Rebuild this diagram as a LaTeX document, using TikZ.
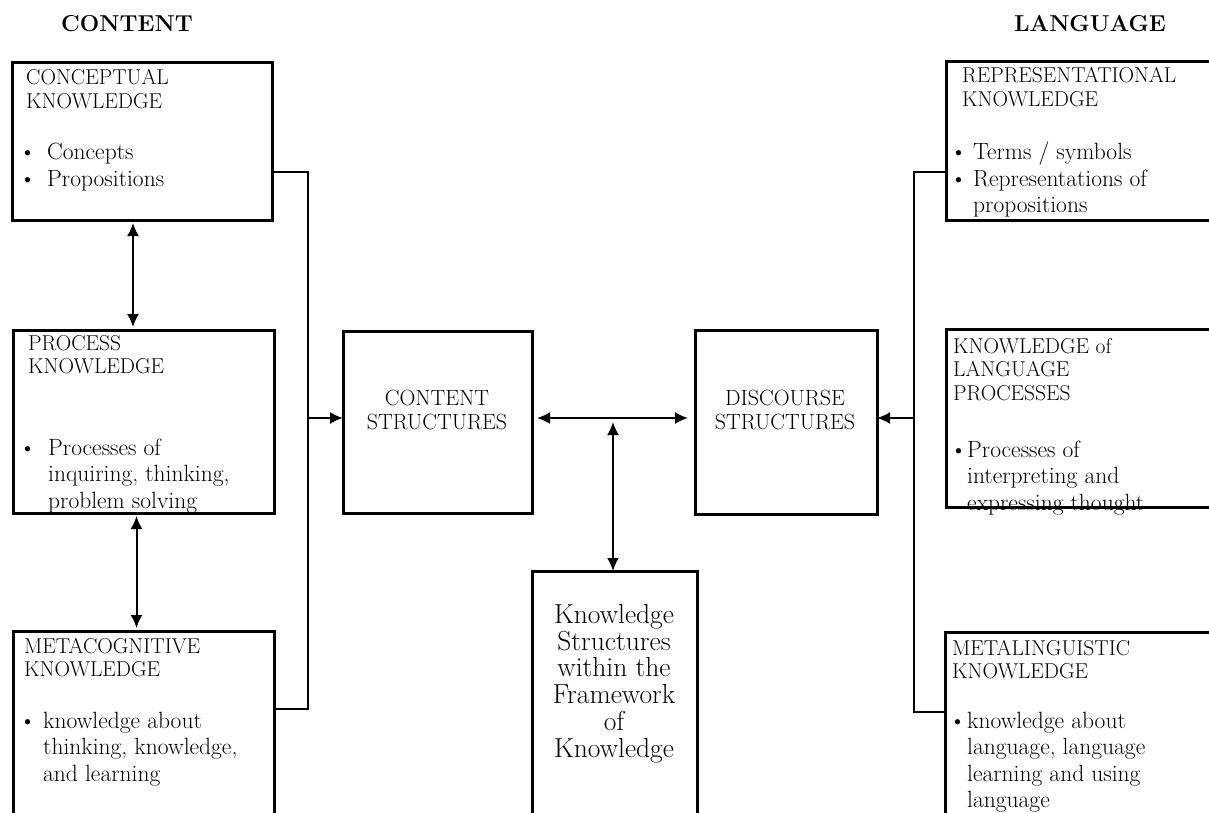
\documentclass[tikz,border=0pt]{standalone}
\usetikzlibrary{arrows.meta}

\newcommand{\hdtext}[1]{\begin{tabular}[t]{@{}l@{}}#1\end{tabular}}
\newcommand{\bltext}[2]{\begin{tabular}[t]{@{}p{#1}@{}l@{}}#2\end{tabular}}

\tikzset{
  box/.style={draw, line width=3pt, inner sep=0pt, outer sep=0pt, anchor=north west},
  wire/.style={line width=2pt},
  tip/.style={wire, -{Latex[length=13pt,width=12pt]}},
  dbl/.style={wire, {Latex[length=13pt,width=12pt]}-{Latex[length=13pt,width=12pt]}},
  txt/.style={anchor=base west, inner sep=0pt},
  hd/.style={txt, font=\fontsize{21.5}{23.5}\selectfont},
  bl/.style={txt, font=\fontsize{23.5}{26.5}\selectfont},
  title/.style={anchor=base, inner sep=0pt, font=\fontsize{23}{28}\selectfont\bfseries},
  mid/.style={anchor=base, inner sep=0pt, font=\fontsize{22}{24.5}\selectfont},
}

\begin{document}
\begin{tikzpicture}[x=1pt,y=-1pt]
	\useasboundingbox (0,0) rectangle (1209,813);
	\clip (0,0) rectangle (1209,813);

	\node[title] (contenthd) at (127,32) {CONTENT};
	\node[title] (languagehd) at (1090,32) {LANGUAGE};

	% left column
	\node[box, minimum width=260pt, minimum height=157pt] (concept) at (12,63) {};
	\node[box, minimum width=261pt, minimum height=183pt] (process) at (13,330) {};
	\node[box, minimum width=261pt, minimum height=230pt] (meta) at (13,631) {};

	% middle
	\node[box, minimum width=189pt, minimum height=182pt] (content) at (343,331) {};
	\node[box, minimum width=182pt, minimum height=184pt] (discourse) at (695,330) {};
	\node[box, minimum width=165pt, minimum height=260pt] (frame) at (532,571) {};

	% right column
	\node[box, minimum width=280pt, minimum height=158pt] (repr) at (946,62) {};
	\node[box, minimum width=280pt, minimum height=178pt] (langproc) at (946,329) {};
	\node[box, minimum width=280pt, minimum height=230pt] (metaling) at (945,632) {};

	% texts
	\node[hd] (concepthd) at (26,85) {\hdtext{CONCEPTUAL\\KNOWLEDGE}};
	\node[bl] (conceptbl) at (19,160) {\bltext{28pt}{\textbullet & Concepts\\ \textbullet & Propositions}};
	\node[hd] (processhd) at (28,350) {\hdtext{PROCESS\\KNOWLEDGE}};
	\node[bl] (processbl) at (19,455) {\bltext{29pt}{\textbullet & Processes of\\ & inquiring, thinking,\\ & problem solving}};
	\node[hd] (metahd) at (24,653) {\hdtext{METACOGNITIVE\\KNOWLEDGE}};
	\node[bl] (metabl) at (19,728) {\bltext{24pt}{\textbullet & knowledge about\\ & thinking, knowledge,\\ & and learning}};

	\node[mid] (contentlb) at (437,405) {\begin{tabular}[t]{@{}c@{}}CONTENT\\STRUCTURES\end{tabular}};
	\node[mid] (discourselb) at (785,405) {\begin{tabular}[t]{@{}c@{}}DISCOURSE\\STRUCTURES\end{tabular}};
	\node[anchor=base, inner sep=0pt, font=\fontsize{27.5}{26}\selectfont] (framelb) at (614,623)
		{\begin{tabular}[t]{@{}c@{}}Knowledge\\Structures\\within the\\Framework\\of\\Knowledge\end{tabular}};

	\node[hd] (reprhd) at (962,83) {\hdtext{REPRESENTATIONAL\\KNOWLEDGE}};
	\node[bl] (reprbl) at (950,160) {\bltext{23pt}{\textbullet & Terms / symbols\\ \textbullet & Representations of\\ & propositions}};
	\node[hd] (langprochd) at (953,353) {\hdtext{KNOWLEDGE of\\LANGUAGE\\PROCESSES}};
	\node[bl] (langprocbl) at (950,457) {\bltext{17pt}{\textbullet & Processes of\\ & interpreting and\\ & expressing thought}};
	\node[hd] (metalinghd) at (952,655) {\hdtext{METALINGUISTIC\\KNOWLEDGE}};
	\node[bl] (metalingbl) at (949,728) {\bltext{18pt}{\textbullet & knowledge about\\ & language, language\\ & learning and using\\ & language}};

	% connectors
	\coordinate (ltop) at (308,172);
	\coordinate (lmid) at (308,418);
	\coordinate (lbot) at (308,709);
	\coordinate (cmid) at (613,418);
	\coordinate (rtop) at (914,172);
	\coordinate (rmid) at (914,418);
	\coordinate (rbot) at (914,712);

	\draw[dbl, shorten <=3pt, shorten >=3pt] ([xshift=-9pt]concept.south) -- ([xshift=-9pt]concept.south |- process.north);
	\draw[dbl, shorten <=3pt, shorten >=3pt] ([xshift=-7pt]process.south) -- ([xshift=-7pt]process.south |- meta.north);

	\draw[wire] (concept.east |- ltop) -- (ltop) -- (lbot) -- (meta.east |- lbot);
	\draw[tip] (lmid) -- (content.west |- lmid);

	\draw[dbl, shorten <=5pt, shorten >=7pt] (content.east |- cmid) -- (discourse.west |- cmid);
	\draw[dbl, shorten <=4pt] (cmid) -- (frame.north -| cmid);

	\draw[wire] (repr.west |- rtop) -- (rtop) -- (rbot) -- (metaling.west |- rbot);
	\draw[tip] (rmid) -- (discourse.east |- rmid);

\end{tikzpicture}
\end{document}
